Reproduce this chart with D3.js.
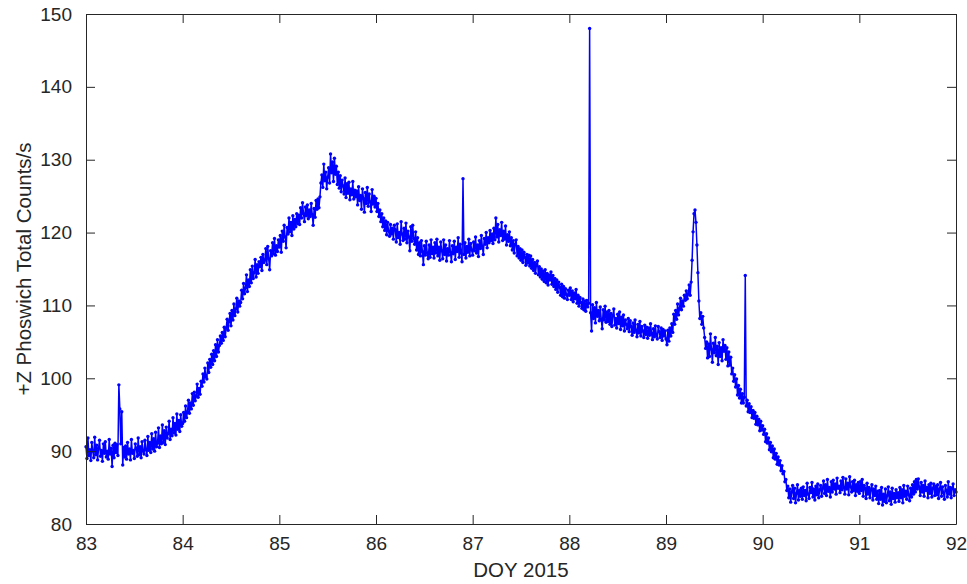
<!DOCTYPE html>
<html>
<head>
<meta charset="utf-8">
<script src="https://cdn.jsdelivr.net/npm/d3@7"></script>
<style>
    body { margin: 0; background: #fff; }
    svg { display: block; font-family: "Liberation Sans", Arial, Helvetica, sans-serif; }
    .tick text { fill: #262626; font-size: 19px; }
    .domain, .tick line { stroke: #262626; }
</style>
</head>
<body>
<div id="chart"></div>
<script>
    'use strict';

    // sampling grid: one reading every 0.01 day starting at DOY 83
    const doyStart = 83;
    const doyStep = 0.01;

    // +Z phoswich total counts/s, 20 samples per row (0.2 day)
    const counts = [
        90.6, 89.0, 91.8, 89.4, 90.2, 88.7, 91.2, 90.0, 89.1, 91.9, 89.5, 90.8, 88.8, 90.4, 91.5, 89.3, 90.1, 88.6, 91.0, 89.7,
        91.3, 89.2, 90.0, 88.9, 91.6, 89.6, 90.4, 87.9, 90.8, 89.1, 91.1, 89.8, 90.9, 89.4, 99.1, 95.8, 91.0, 95.4, 88.1, 90.5,
        89.2, 90.7, 88.9, 91.2, 89.6, 90.3, 88.8, 91.6, 89.7, 90.1, 89.0, 91.0, 90.4, 89.3, 91.8, 89.5, 90.6, 89.1, 91.3, 90.0,
        89.6, 91.5, 90.2, 89.4, 92.0, 90.1, 91.2, 89.8, 92.4, 90.3, 91.7, 90.0, 92.6, 90.6, 91.1, 93.2, 90.5, 92.1, 91.0, 93.6,
        91.2, 92.8, 90.9, 93.3, 91.8, 92.4, 94.1, 91.6, 93.0, 92.1, 94.6, 92.5, 93.8, 92.2, 95.1, 93.0, 94.2, 92.7, 95.0, 93.4,
        93.8, 95.3, 94.1, 96.2, 94.6, 95.4, 97.0, 95.2, 96.6, 95.8, 97.9, 96.3, 98.1, 96.9, 97.6, 99.2, 97.4, 98.6, 97.8, 99.6,
        98.9, 100.6, 99.5, 101.4, 100.2, 99.9, 102.1, 100.8, 102.6, 101.5, 103.3, 101.9, 103.8, 102.4, 104.6, 103.0, 105.3, 103.6, 104.5, 105.8,
        104.8, 106.3, 105.2, 107.0, 105.7, 106.9, 108.1, 106.6, 107.8, 108.9, 107.2, 109.3, 108.0, 110.2, 108.6, 109.5, 111.0, 109.1, 110.6, 109.9,
        110.4, 112.1, 110.9, 113.0, 111.6, 112.4, 114.2, 111.9, 113.5, 112.6, 114.9, 113.1, 115.4, 113.7, 114.5, 116.3, 113.9, 115.6, 114.4, 116.0,
        115.3, 116.6, 114.8, 117.0, 115.9, 116.2, 117.8, 115.6, 118.1, 116.4, 114.9, 117.5, 116.8, 118.6, 117.1, 119.2, 116.9, 118.2, 117.4, 119.0,
        118.0, 119.6, 117.3, 120.2, 118.8, 121.0, 119.4, 117.9, 120.7, 119.8, 122.0, 120.1, 121.4, 119.6, 122.3, 120.5, 121.8, 120.8, 122.6, 121.2,
        122.4, 121.1, 123.4, 122.0, 124.1, 122.6, 121.5, 123.5, 122.3, 123.8, 121.9, 123.1, 122.2, 124.0, 122.5, 121.0, 123.3, 122.1, 124.4, 123.2,
        124.6, 123.4, 124.9, 126.8, 127.9, 126.2, 129.4, 127.1, 128.3, 126.0, 127.6, 128.9, 126.8, 130.8, 128.2, 129.7, 127.0, 130.2, 128.0, 129.1,
        126.6, 128.3, 126.1, 127.8, 125.6, 127.2, 126.4, 125.3, 127.5, 124.8, 126.7, 125.4, 126.9, 124.5, 126.0, 125.2, 127.0, 124.6, 125.8, 124.9,
        125.7, 123.8, 126.3, 124.4, 125.1, 123.2, 126.0, 124.7, 122.8, 125.5, 124.0, 126.2, 123.6, 125.3, 124.2, 122.9, 125.9, 123.9, 125.0, 123.5,
        124.7, 122.9, 124.0, 122.2, 123.1, 121.5, 122.6, 120.8, 122.0, 120.3, 121.6, 119.7, 121.4, 120.2, 119.5, 121.1, 119.8, 120.6, 119.1, 121.0,
        120.4, 118.7, 121.2, 119.3, 120.0, 118.4, 121.5, 119.8, 118.9, 120.6, 119.1, 121.3, 118.6, 120.2, 119.4, 117.5, 120.8, 118.8, 121.0, 119.2,
        118.4, 120.1, 117.6, 119.3, 117.0, 118.6, 116.8, 118.9, 117.4, 115.6, 118.2, 116.9, 118.8, 117.2, 116.4, 118.3, 116.6, 119.0, 117.1, 118.0,
        116.5, 118.6, 117.2, 119.1, 116.8, 118.0, 116.2, 118.7, 117.5, 116.4, 119.0, 117.0, 118.3, 116.1, 117.8, 116.9, 118.9, 117.3, 116.0, 118.2,
        117.1, 118.8, 116.3, 118.0, 117.4, 119.3, 116.6, 118.4, 117.2, 116.0, 127.4, 117.0, 118.6, 116.5, 118.1, 117.3, 119.1, 116.8, 118.5, 117.6,
        116.9, 118.7, 117.5, 119.4, 117.2, 118.3, 116.7, 118.9, 117.8, 119.6, 118.1, 117.0, 119.2, 118.4, 120.0, 117.9, 119.3, 118.6, 120.3, 118.9,
        119.8, 118.5, 120.6, 119.0, 122.0, 119.4, 121.1, 118.7, 120.4, 119.6, 121.4, 118.9, 120.2, 119.1, 120.9, 118.3, 119.7, 118.8, 120.1, 118.2,
        119.3, 117.6, 118.9, 117.2, 118.4, 119.0, 116.8, 118.1, 116.5, 117.8, 116.2, 117.6, 115.9, 117.3, 116.6, 115.5, 117.0, 115.8, 116.9, 115.4,
        116.8, 115.1, 116.3, 114.8, 115.9, 114.4, 115.6, 116.1, 114.2, 115.3, 113.9, 115.0, 113.6, 114.7, 113.3, 114.9, 113.1, 114.4, 112.8, 114.2,
        113.5, 114.6, 112.9, 114.1, 112.6, 113.7, 112.2, 113.5, 111.8, 113.2, 112.5, 111.4, 112.9, 111.2, 112.6, 111.0, 112.3, 111.5, 110.8, 112.1,
        111.4, 112.4, 110.8, 112.0, 110.5, 111.7, 110.9, 112.2, 110.3, 111.4, 109.9, 111.1, 110.4, 109.6, 110.9, 109.4, 110.6, 109.2, 110.7, 109.8,
        110.3, 148.0, 109.0, 106.5, 110.1, 108.2, 109.7, 107.6, 110.4, 108.5, 109.3, 107.9, 109.8, 108.1, 106.8, 109.4, 108.0, 109.9, 107.7, 109.1,
        107.8, 109.3, 107.4, 108.9, 107.1, 108.6, 109.5, 107.3, 108.2, 106.9, 108.8, 107.5, 109.1, 106.7, 108.4, 107.2, 108.7, 106.5, 108.0, 107.4,
        106.8, 108.2, 106.4, 107.9, 107.1, 105.9, 107.6, 106.3, 108.0, 106.6, 105.7, 107.4, 106.2, 107.8, 105.8, 107.1, 106.5, 105.6, 107.3, 106.0,
        107.0, 105.5, 106.9, 105.9, 107.5, 106.2, 105.3, 106.8, 105.7, 107.2, 106.0, 105.4, 107.1, 106.4, 105.6, 106.9, 105.2, 106.7, 105.8, 106.5,
        105.4, 104.6, 106.6, 105.1, 106.9, 105.8, 107.5, 106.3, 108.8, 107.4, 109.3, 108.1, 110.2, 108.7, 109.6, 111.0, 109.4, 110.6, 109.9, 111.4,
        110.7, 112.0, 110.9, 111.6, 112.8, 111.4, 113.2, 116.2, 120.1, 122.6, 123.1, 121.4, 118.3, 114.5, 110.6, 108.2, 109.0, 107.4, 108.5, 106.9,
        105.6, 104.1, 105.0, 102.8, 104.7, 103.0, 106.1, 104.0, 102.2, 104.8, 103.5, 105.6, 103.1, 104.4, 101.9, 104.9, 103.0, 104.2, 102.4, 105.3,
        103.7, 104.5, 102.6, 104.2, 101.7, 103.6, 101.8, 102.9, 100.6, 101.4, 99.6, 100.5, 98.8, 99.9, 97.7, 99.0, 97.3, 98.5, 96.6, 97.9,
        96.6, 97.4, 114.1, 96.2, 97.0, 95.4, 96.5, 95.3, 96.1, 94.6, 95.6, 94.5, 95.3, 93.7, 94.8, 93.6, 94.4, 92.8, 94.1, 92.9,
        93.5, 92.3, 93.0, 91.3, 92.4, 91.1, 91.8, 90.2, 91.2, 89.9, 90.7, 89.1, 90.3, 88.9, 89.7, 88.2, 89.2, 88.1, 88.7, 87.3,
        88.0, 86.9, 87.2, 85.8, 86.1, 84.6, 85.2, 83.6, 84.8, 83.0, 84.4, 85.3, 83.5, 84.9, 82.9, 84.2, 85.4, 83.3, 84.6, 83.8,
        84.9, 83.4, 85.1, 83.9, 84.6, 83.2, 85.6, 84.1, 83.5, 85.0, 84.3, 85.7, 83.7, 84.8, 83.3, 85.2, 84.0, 85.5, 83.6, 84.7,
        85.3, 83.8, 84.9, 85.9, 84.2, 85.4, 83.9, 86.1, 84.5, 85.0, 83.7, 85.8, 84.4, 86.0, 84.8, 85.5, 84.1, 86.3, 84.9, 85.2,
        84.3, 85.9, 84.7, 86.4, 85.0, 84.1, 86.2, 84.8, 85.6, 84.0, 86.5, 85.1, 84.4, 85.8, 84.6, 86.0, 83.9, 85.4, 84.5, 85.7,
        84.2, 85.8, 84.6, 86.1, 83.8, 85.3, 84.9, 83.5, 85.6, 84.1, 85.0, 83.6, 84.7, 85.4, 83.3, 84.8, 83.9, 85.2, 83.4, 84.5,
        82.8, 84.6, 83.4, 85.0, 82.6, 84.1, 83.1, 84.8, 82.9, 83.9, 85.1, 83.2, 84.4, 82.7, 84.9, 83.5, 84.2, 83.0, 84.7, 83.6,
        84.3, 83.1, 85.0, 83.6, 84.7, 82.9, 85.3, 83.8, 84.5, 83.4, 85.2, 84.0, 83.2, 84.9, 83.7, 85.4, 84.1, 85.8, 84.4, 86.1,
        84.8, 86.2, 85.1, 83.9, 85.7, 84.4, 85.3, 83.8, 85.9, 84.6, 85.0, 83.6, 85.4, 84.2, 85.6, 83.7, 84.9, 85.5, 83.9, 85.2,
        84.0, 85.4, 83.5, 84.8, 85.7, 83.8, 85.1, 84.3, 83.4, 85.3, 84.6, 83.7, 85.8, 84.1, 85.0, 83.6, 84.9, 85.5, 83.9, 84.7,
        84.4
    ];

    const xTicks = [83, 84, 85, 86, 87, 88, 89, 90, 91, 92];
    const yTicks = [80, 90, 100, 110, 120, 130, 140, 150];

    const data = counts.map(function (c, i) {
        return { doy: doyStart + i * doyStep, value: c };
    });

    const totalW = 967, totalH = 584;
    const margin = { top: 14, right: 11, bottom: 60, left: 86 };
    const width = totalW - margin.left - margin.right;
    const height = totalH - margin.top - margin.bottom;
    const tickLen = 9;

    const xScale = d3.scaleLinear().domain([83, 92]).range([0, width]);
    const yScale = d3.scaleLinear().domain([80, 150]).range([height, 0]);

    const svg = d3.select('#chart').append('svg')
        .attr('width', totalW).attr('height', totalH)
        .append('g')
        .attr('transform', 'translate(' + margin.left + ',' + margin.top + ')');

    // the series: line plus a small dot per sample
    const line = d3.line().x(d => xScale(d.doy)).y(d => yScale(d.value));
    svg.append('path').datum(data)
        .attr('d', line)
        .attr('fill', 'none')
        .attr('stroke', '#0000ff')
        .attr('stroke-width', 1.5)
        .attr('stroke-linejoin', 'round');
    svg.selectAll('.pt').data(data).enter().append('circle').classed('pt', true)
        .attr('cx', d => xScale(d.doy))
        .attr('cy', d => yScale(d.value))
        .attr('r', 1.7)
        .attr('fill', '#0000ff');

    // axes with inward ticks on all four sides
    svg.append('g').attr('class', 'xaxis')
        .attr('transform', 'translate(0,' + height + ')')
        .call(d3.axisBottom(xScale).tickValues(xTicks).tickSizeInner(-tickLen).tickSizeOuter(0).tickPadding(13).tickFormat(d3.format('d')));
    svg.append('g').attr('class', 'xaxis-top')
        .call(d3.axisTop(xScale).tickValues(xTicks).tickSizeInner(-tickLen).tickSizeOuter(0).tickFormat(''));
    svg.append('g').attr('class', 'yaxis')
        .call(d3.axisLeft(yScale).tickValues(yTicks).tickSizeInner(-tickLen).tickSizeOuter(0).tickPadding(14).tickFormat(d3.format('d')));
    svg.append('g').attr('class', 'yaxis-right')
        .attr('transform', 'translate(' + width + ',0)')
        .call(d3.axisRight(yScale).tickValues(yTicks).tickSizeInner(-tickLen).tickSizeOuter(0).tickFormat(''));

    svg.append('text')
        .attr('x', width / 2).attr('y', height + 53)
        .attr('text-anchor', 'middle')
        .style('font-size', '20.5px').style('fill', '#262626')
        .text('DOY 2015');

    svg.append('text')
        .attr('transform', 'rotate(-90)')
        .attr('x', -height / 2).attr('y', -55)
        .attr('text-anchor', 'middle')
        .style('font-size', '20.5px').style('fill', '#262626')
        .text('+Z Phoswich Total Counts/s');
</script>
</body>
</html>
